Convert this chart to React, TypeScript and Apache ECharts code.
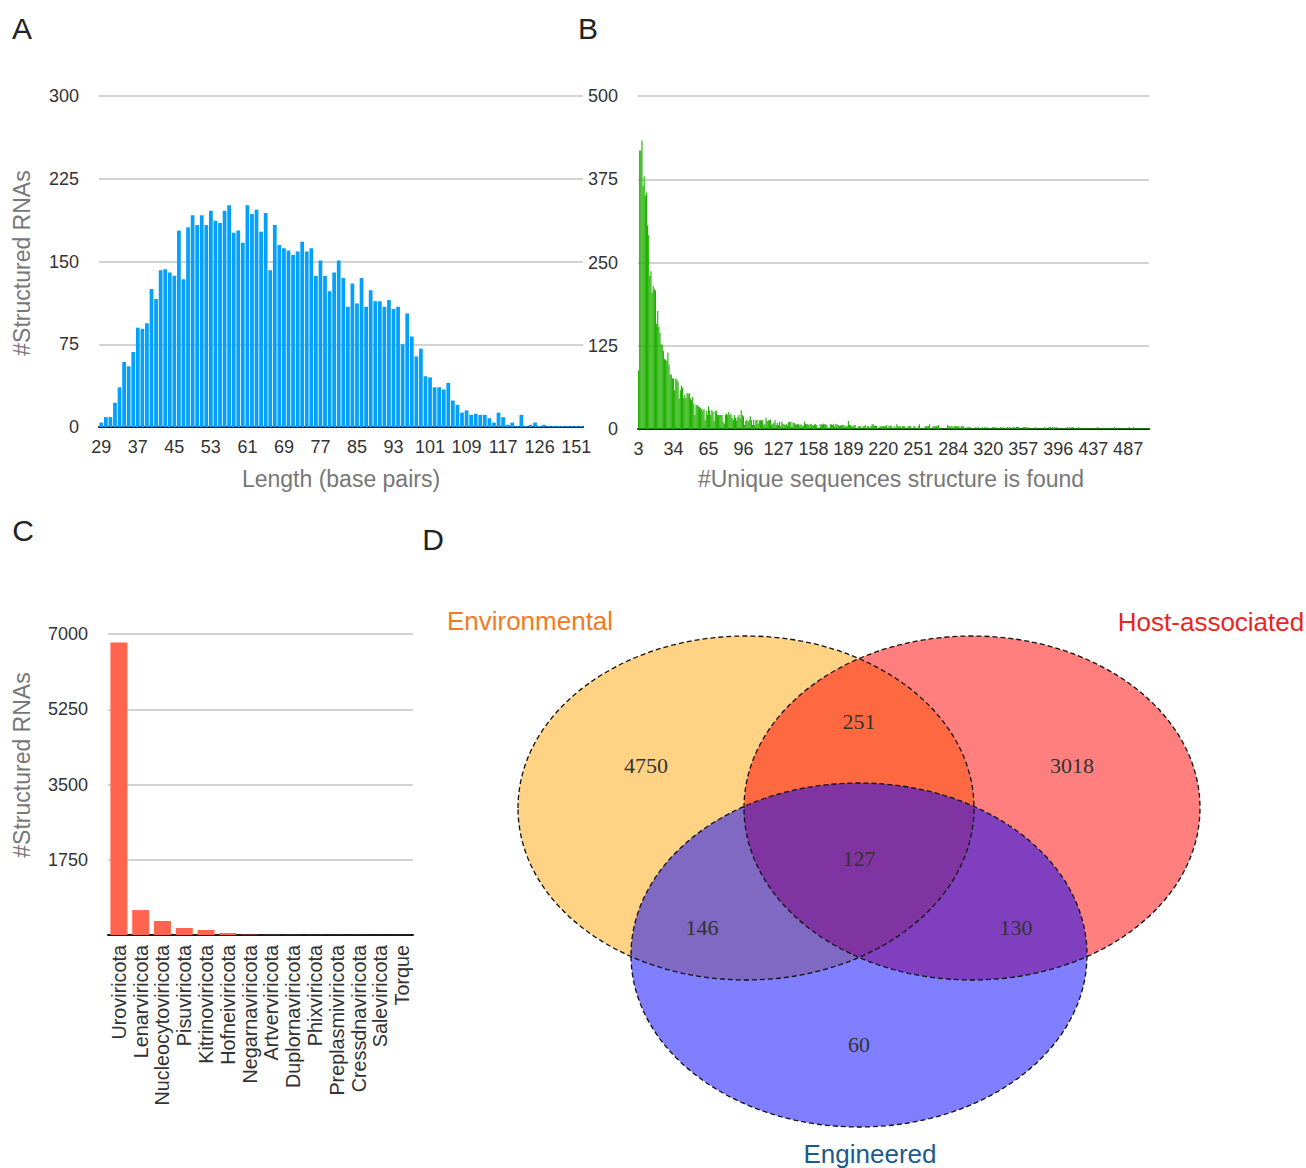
import React, { useEffect, useRef } from "react";
import * as echarts from "echarts";

// ---------- Panel A: length distribution ----------
const lengthRunStart = 29;
const lengthRunEnd = 117;
const lengthTail = [118, 119, 120, 121, 122, 123, 125, 126, 127, 128, 129, 131, 134, 138, 145, 151, 160];
const lengthCounts = [
  4, 9, 9, 22, 36, 59, 55, 68, 90, 89,
  94, 125, 116, 142, 143, 140, 137, 178, 134, 181,
  192, 183, 192, 183, 196, 187, 185, 196, 201, 176,
  178, 167, 201, 193, 197, 177, 194, 142, 183, 165,
  162, 160, 156, 159, 168, 159, 162, 137, 151, 137,
  123, 140, 151, 135, 109, 130, 112, 135, 109, 124,
  114, 114, 109, 115, 107, 109, 75, 103, 82, 64,
  71, 46, 45, 36, 36, 34, 40, 24, 20, 13,
  15, 11, 12, 11, 11, 8, 4, 13, 9, 2,
  4, 1, 11, 1, 2, 4, 1, 2, 1, 1,
  1, 1, 1, 1, 1, 1,
];

// ---------- Panel B: #unique sequences per structure ----------
const uniqueTickLabels = [3, 34, 65, 96, 127, 158, 189, 220, 251, 284, 320, 357, 396, 437, 487];
const uniqueCategoryCount = 453;
const uniqueHead = [
  88, 418, 418, 433, 365, 379, 350, 355, 306, 291,
  230, 237, 205, 215, 210, 208, 158, 177, 154, 144,
  127, 127, 117, 105, 104, 102, 115, 96, 82, 82,
  76, 76, 58, 76, 74, 71,
];
const uniqueMid = [
  46, 58, 65, 62, 46, 51, 46, 54, 52, 54,
  46, 43, 48, 38, 21, 36, 36, 34, 33, 31,
  30, 27, 30, 13, 27, 21, 34, 28, 21, 28,
  26, 12, 27, 27, 21, 21, 21, 21, 21, 11,
  8, 21, 23, 21, 26, 21, 23, 17, 14, 21,
  17, 13, 18, 21, 16, 28, 21, 19, 6, 12,
  14, 11, 14, 19, 13, 6, 14, 6, 13, 14,
  8, 13, 13, 13, 13, 6, 8, 17, 12, 13,
  13, 14, 6, 8, 9, 13, 6, 9, 6,
];
const uniqueLow = [
  11, 4, 11, 8, 7, 6, 7, 5, 10, 11, 11, 4, 10, 9, 7, 6, 8, 7, 6, 7, 5, 5, 11, 8, 7, 7, 6, 7, 8, 6, 5, 7, 7, 6,
  2, 1, 7, 7, 6, 8, 7, 7, 6, 1, 1, 7, 7, 6, 8, 4, 7, 7, 6, 5, 5, 6, 6, 6, 4, 4, 4, 12, 6, 6, 4, 4, 6, 6, 1, 1, 4,
  4, 4, 1, 4, 4, 6, 1, 4, 4, 1, 4, 7, 7, 5, 5, 5, 1, 1, 4, 4, 4, 4, 4, 4, 6, 1, 5, 5, 5, 1, 1, 4, 1, 7, 4, 4, 4, 1, 4, 4, 4, 1, 1,
  4, 4, 4, 1, 1, 4, 4, 1, 1, 4, 7, 1, 1, 1, 1, 4, 4, 4, 4, 7, 1, 1, 4, 4, 4, 4, 4, 6, 1, 1, 1, 1, 1, 1, 1, 6, 4, 4, 4, 4, 1, 4, 4, 4, 4, 4, 1, 4, 4, 4,
];
const uniqueTail = [
  1, 1, 3, 1, 3, 3, 1, 1, 1, 1,
  3, 1, 3, 1, 1, 1, 3, 1, 3, 1,
  3, 1, 1, 1, 1, 3, 3, 1, 3, 1,
  1, 1, 3, 1, 3, 1, 1, 1, 3, 1,
  3, 1, 1, 3, 3, 1, 3, 3, 3, 1,
  1, 1, 3, 3, 3, 1, 3, 1, 1, 1,
  1, 1, 1, 3, 1, 1, 1, 1, 1, 1,
  1, 3, 1, 1, 1, 3, 3, 1, 3, 1,
  3, 1, 3, 1, 1, 1, 1, 1, 1, 1,
  1, 3, 1, 3, 1, 3, 3, 1, 1, 1,
  1, 3, 1, 1, 1, 1, 1, 1, 1, 1,
  1, 1, 1, 1, 1, 1, 1, 1, 3, 1,
  1, 1, 1, 1, 1, 1, 1, 1, 1, 1,
  1, 1, 1, 3, 1, 1, 1, 1, 1, 1,
  1, 1, 1, 1, 1, 1, 3, 1, 1, 1,
  3, 1, 1, 1, 1, 1, 1, 1, 1, 1,
  1, 1, 1, 1,
];

// ---------- Panel C: phyla ----------
const phyla = [
  "Uroviricota", "Lenarviricota", "Nucleocytoviricota", "Pisuviricota", "Kitrinoviricota",
  "Hofneiviricota", "Negarnaviricota", "Artverviricota", "Duplornaviricota", "Phixviricota",
  "Preplasmiviricota", "Cressdnaviricota", "Saleviricota", "Torque",
];
const phylaCounts = [6800, 580, 326, 163, 116, 47, 8, 5, 4, 3, 2, 2, 1, 1];

// ---------- Panel D: Venn ----------
const vennSets = ["Environmental", "Host-associated", "Engineered"];
const vennCounts = [4750, 251, 3018, 127, 146, 130, 60];

// build category labels (names only)
function buildLengthCats(): string[] {
  const out: string[] = [];
  for (let v = lengthRunStart; v <= lengthRunEnd; v++) out.push(String(v));
  lengthTail.forEach((v) => out.push(String(v)));
  return out;
}
function buildUniqueCats(): string[] {
  const out: string[] = [];
  const step = 31;
  for (let i = 0; i < uniqueCategoryCount; i++) {
    const k = Math.floor(i / step);
    const r = i % step;
    let v: number;
    if (k < uniqueTickLabels.length - 1) {
      const a = uniqueTickLabels[k];
      const b = uniqueTickLabels[k + 1];
      v = Math.round(a + ((b - a) * r) / step);
    } else {
      v = uniqueTickLabels[uniqueTickLabels.length - 1] + r * 3;
    }
    out.push(String(v));
  }
  return out;
}

const FONT = "'Liberation Sans', Arial, Helvetica, sans-serif";
const SERIF = "'Liberation Serif', 'Times New Roman', serif";
const TICK = "#333333";
const TITLE = "#777777";

export default function App() {
  const ref = useRef<HTMLDivElement>(null);
  useEffect(() => {
    document.body.style.margin = "0";
    if (!ref.current) return;
    const chart = echarts.init(ref.current, undefined, { renderer: "svg" });
    const lengthCats = buildLengthCats();
    const uniqueCats = buildUniqueCats();
    const uniqueCounts = [...uniqueHead, ...uniqueMid, ...uniqueLow, ...uniqueTail];

    const xBase = (gridIndex: number, data: string[], interval: number, extra: any = {}) => ({
      type: "category",
      gridIndex,
      data,
      axisTick: { show: false },
      axisLine: { lineStyle: { color: "#1a1a1a", width: 2 } },
      axisLabel: { interval, color: TICK, fontSize: 18, fontFamily: FONT, margin: 11, hideOverlap: false, ...extra },
    });
    const yBase = (gridIndex: number, max: number, interval: number, extra: any = {}) => ({
      type: "value",
      gridIndex,
      min: 0,
      max,
      interval,
      axisLine: { show: false },
      axisTick: { show: false },
      splitLine: { lineStyle: { color: "#c4c4c4", width: 1.6 } },
      axisLabel: {
        color: TICK,
        fontSize: 18,
        fontFamily: FONT,
        margin: 20,
        formatter: (v: number) => String(v),
        ...extra,
      },
    });

    const txt = (text: string, x: number, y: number, size: number, fill: string, extra: any = {}) => ({
      type: "text",
      x,
      y,
      ...extra,
      style: { text, fontSize: size, fontFamily: FONT, fill, align: "center", verticalAlign: "middle", ...(extra.style || {}) },
    });

    const ellipses = [
      { cx: 746, cy: 808, rx: 228, ry: 172, fill: "rgba(255,165,10,0.5)" },
      { cx: 972, cy: 808, rx: 228, ry: 172, fill: "rgba(255,0,0,0.5)" },
      { cx: 859, cy: 955, rx: 228, ry: 172, fill: "rgba(0,0,255,0.5)" },
    ];
    const vennPos = [
      [646, 765], [859, 721], [1072, 765], [859, 858], [702, 927], [1016, 927], [859, 1044],
    ];

    const graphic: any[] = [
      txt("A", 22, 28, 30, "#222"),
      txt("B", 588, 28, 30, "#222"),
      txt("C", 23, 530, 30, "#222"),
      txt("D", 433, 539, 30, "#222"),
      txt("#Structured RNAs", 22, 263, 23, TITLE, { rotation: Math.PI / 2 }),
      txt("Length (base pairs)", 341, 479, 23, TITLE),
      txt("#Unique sequences structure is found", 891, 479, 23, TITLE),
      txt("#Structured RNAs", 22, 765, 23, TITLE, { rotation: Math.PI / 2 }),
      ...ellipses.map((e) => ({
        type: "ellipse",
        shape: { cx: e.cx, cy: e.cy, rx: e.rx, ry: e.ry },
        style: { fill: e.fill, stroke: "none" },
      })),
      ...ellipses.map((e) => ({
        type: "ellipse",
        shape: { cx: e.cx, cy: e.cy, rx: e.rx, ry: e.ry },
        style: { fill: "none", stroke: "#111", lineWidth: 1.3, lineDash: [5, 3] },
      })),
      ...vennCounts.map((c, i) =>
        txt(String(c), vennPos[i][0], vennPos[i][1], 22, "#333", { style: { fontFamily: SERIF } })
      ),
      txt(vennSets[0], 530, 621, 26, "#f47a1f"),
      txt(vennSets[1], 1211, 622, 26, "#e9261f"),
      txt(vennSets[2], 870, 1154, 26, "#1b5a8e"),
    ];

    chart.setOption({
      animation: false,
      backgroundColor: "#ffffff",
      grid: [
        { left: 99, right: 723, top: 96, bottom: 741 },
        { left: 638, right: 157, top: 96, bottom: 739 },
        { left: 108, right: 893, top: 634, bottom: 233 },
      ],
      xAxis: [
        xBase(0, lengthCats, 7),
        xBase(1, uniqueCats, 30),
        xBase(2, phyla, 0, { rotate: 90, margin: 10, fontSize: 19.8 }),
      ],
      yAxis: [
        yBase(0, 300, 75),
        yBase(1, 500, 125),
        yBase(2, 7000, 1750, { showMinLabel: false }),
      ],
      series: [
        {
          type: "bar",
          xAxisIndex: 0,
          yAxisIndex: 0,
          data: lengthCounts,
          barCategoryGap: "18%",
          itemStyle: { color: "#04a0fb" },
        },
        {
          type: "bar",
          xAxisIndex: 1,
          yAxisIndex: 1,
          data: uniqueCounts,
          barCategoryGap: "0%",
          itemStyle: { color: "#1fb000" },
        },
        {
          type: "bar",
          xAxisIndex: 2,
          yAxisIndex: 2,
          data: phylaCounts,
          barCategoryGap: "22%",
          itemStyle: { color: "#ff644f" },
        },
      ],
      graphic,
    });
    return () => chart.dispose();
  }, []);
  return <div ref={ref} style={{ width: 1306, height: 1168 }} />;
}
